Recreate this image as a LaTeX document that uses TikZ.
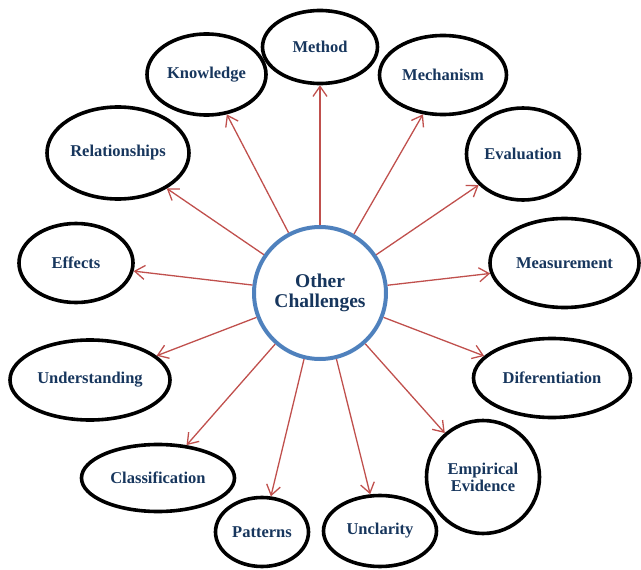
\documentclass[tikz,border=0pt]{standalone}
\usepackage{fontspec}
\setmainfont{Liberation Serif}
\usetikzlibrary{arrows.meta}
\usetikzlibrary{shapes.geometric}

\definecolor{navy}{RGB}{23,54,93}
\definecolor{hubblue}{RGB}{79,129,189}
\definecolor{linkred}{RGB}{192,80,77}

\begin{document}
\begin{tikzpicture}[x=1pt,y=-1pt,>/.tip={Straight Barb[length=10pt,width=14pt]},
	topic/.style={draw,shape=ellipse,line width=3.6pt,inner sep=0pt,text=navy,
		font=\fontsize{16.5}{17}\selectfont\bfseries,align=center},
	hub/.style={draw=hubblue,shape=circle,line width=4pt,inner sep=0pt,minimum size=132pt,
		text=navy,font=\fontsize{19.5}{20}\selectfont\bfseries,align=center},
	link/.style={->,draw=linkred,line width=1.3pt}]
	\useasboundingbox (0,0) rectangle (641,570);
	\draw (320,293) node(OC) [hub] {Other\\Challenges};
	% ring of topics, clockwise from the top
	\draw (320,47) node(Met) [topic,minimum width=115pt,minimum height=73pt] {Method};
	\draw (443,75) node(Mec) [topic,minimum width=127pt,minimum height=79pt] {Mechanism};
	\draw (523,154) node(Eva) [topic,minimum width=113pt,minimum height=92pt] {Evaluation};
	\draw (564.5,263) node(Mea) [topic,minimum width=149pt,minimum height=89pt] {Measurement};
	\draw (552,378) node(Dif) [topic,minimum width=157pt,minimum height=79pt] {Diferentiation};
	\draw (483,477) node(Emp) [topic,minimum width=113pt,minimum height=113pt] {Empirical\\Evidence};
	\draw (380,531) node(Unc) [topic,minimum width=113pt,minimum height=71pt] {Unclarity};
	\draw (262,532) node(Pat) [topic,minimum width=93pt,minimum height=69pt] {Patterns};
	\draw (158,478) node(Cla) [topic,minimum width=153pt,minimum height=67pt] {Classification};
	\draw (90,380) node(Und) [topic,minimum width=160pt,minimum height=80pt] {Understanding};
	\draw (76,263) node(Eff) [topic,minimum width=114pt,minimum height=79pt] {Effects};
	\draw (118,153) node(Rel) [topic,minimum width=142pt,minimum height=92pt] {Relationships};
	\draw (206.5,74.5) node(Kno) [topic,minimum width=119pt,minimum height=81pt] {Knowledge};
	% spokes
	\draw[link] (OC) -- (Met.270);
	\draw[link] (OC) -- (Mec.243);
	\draw[link] (OC) -- (Eva.215);
	\draw[link] (OC) -- (Mea.188);
	\draw[link] (OC) -- (Dif.162);
	\draw[link] (OC) -- (Emp.131);
	\draw[link] (OC) -- (Unc.105);
	\draw[link] (OC) -- (Pat.76);
	\draw[link] (OC) -- (Cla.49);
	\draw[link] (OC) -- (Und.20);
	\draw[link] (OC) -- (Eff.-8);
	\draw[link] (OC) -- (Rel.-36);
	\draw[link] (OC) -- (Kno.-63);
\end{tikzpicture}
\end{document}
